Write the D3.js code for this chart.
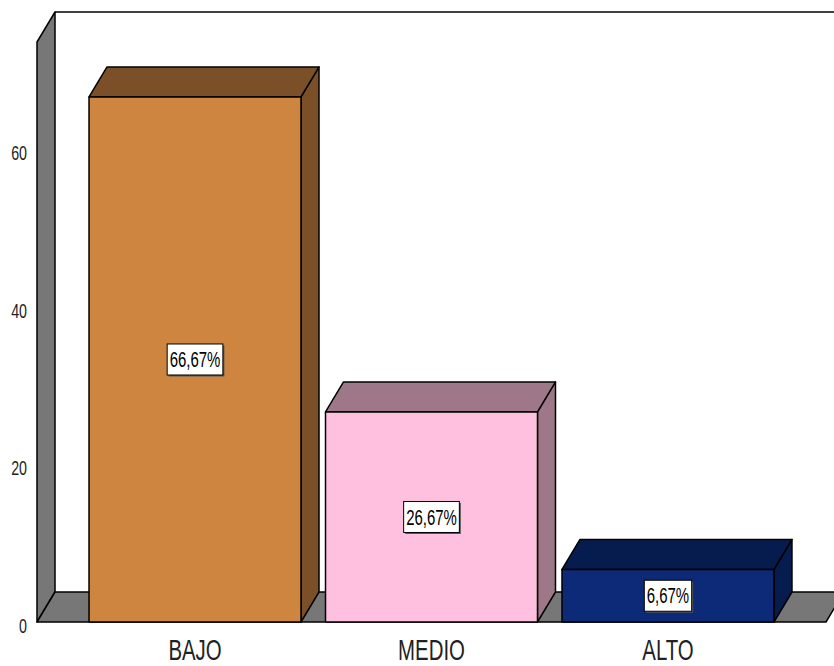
<!DOCTYPE html>
<html><head><meta charset="utf-8">
<script src="https://cdn.jsdelivr.net/npm/d3@7"></script>
<style>body{margin:0;background:#fff}svg{display:block}</style>
</head><body>
<script>
const categories = ["BAJO", "MEDIO", "ALTO"];
const values = [66.67, 26.67, 6.67];
const valueLabels = ["66,67%", "26,67%", "6,67%"];
const yTicks = [0, 20, 40, 60];
const frontColors = ["#CD853F", "#FFC0E0", "#0C2A78"];
const topColors = ["#7B5029", "#9E7888", "#061B4E"];

const W = 834, H = 666;
const dx = 18, dy = -30;
const FONT = "Liberation Sans, Arial, sans-serif";
const SX = 0.68;
const svg = d3.select("body").append("svg").attr("width", W).attr("height", H);

const x = d3.scaleBand().domain(categories).range([37, 826]).paddingInner(0.1036).paddingOuter(0.22);
const y = d3.scaleLinear().domain([0, 73.65]).range([622, 42]);
const y0 = y(0), yTop = y(73.65);
const x0 = 37, x1 = 826;
const squeeze = cx => `translate(${cx},0) scale(${SX},1) translate(${-cx},0)`;

// top border
svg.append("line").attr("x1", x0 + dx).attr("y1", yTop + dy).attr("x2", W + 5).attr("y2", yTop + dy)
  .attr("stroke", "#000").attr("stroke-width", 1.5);

// left wall
svg.append("polygon")
  .attr("points", [[x0, y0], [x0, yTop], [x0 + dx, yTop + dy], [x0 + dx, y0 + dy]].map(p => p.join(",")).join(" "))
  .attr("fill", "#777").attr("stroke", "#000").attr("stroke-width", 1.5).attr("stroke-linejoin", "round");
// floor
svg.append("polygon")
  .attr("points", [[x0, y0], [x1, y0], [x1 + dx, y0 + dy], [x0 + dx, y0 + dy]].map(p => p.join(",")).join(" "))
  .attr("fill", "#777").attr("stroke", "#000").attr("stroke-width", 1.5).attr("stroke-linejoin", "round");

// y tick labels
svg.append("g").selectAll("text").data(yTicks).join("text")
  .attr("x", 27).attr("y", d => y(d) + 3.5).attr("dy", "0.35em")
  .attr("text-anchor", "end")
  .attr("font-family", FONT).attr("font-size", 21)
  .attr("fill", "#222")
  .attr("transform", squeeze(27))
  .text(d => d);

// bars
const bars = svg.append("g").selectAll("g").data(categories).join("g");
bars.each(function (c, i) {
  const g = d3.select(this);
  const bx = x(c), bw = x.bandwidth(), by = y(values[i]);
  const poly = (pts, fill) => g.append("polygon").attr("points", pts.map(q => q.join(",")).join(" "))
    .attr("fill", fill).attr("stroke", "#000").attr("stroke-width", 1.5).attr("stroke-linejoin", "round");
  // side
  poly([[bx + bw, y0], [bx + bw, by], [bx + bw + dx, by + dy], [bx + bw + dx, y0 + dy]], topColors[i]);
  // top
  poly([[bx, by], [bx + dx, by + dy], [bx + bw + dx, by + dy], [bx + bw, by]], topColors[i]);
  // front
  poly([[bx, y0], [bx, by], [bx + bw, by], [bx + bw, y0]], frontColors[i]);

  // value label
  const cx = bx + bw / 2, cy = (by + y0) / 2;
  const t = g.append("text").attr("x", cx).attr("y", cy).attr("dy", "0.35em")
    .attr("text-anchor", "middle")
    .attr("font-family", FONT).attr("font-size", 22)
    .attr("fill", "#000")
    .attr("transform", squeeze(cx))
    .text(valueLabels[i]);
  const tw = t.node().getComputedTextLength() * SX;
  const bw2 = tw + 5, bh = 31;
  g.insert("rect", "text").attr("x", cx - bw2 / 2 + 1.5).attr("y", cy - bh / 2 + 1.5)
    .attr("width", bw2).attr("height", bh).attr("fill", "#555");
  g.insert("rect", "text").attr("x", cx - bw2 / 2).attr("y", cy - bh / 2)
    .attr("width", bw2).attr("height", bh).attr("fill", "#fff").attr("stroke", "#000").attr("stroke-width", 1);
});

// category labels
svg.append("g").selectAll("text").data(categories).join("text")
  .attr("x", d => x(d) + x.bandwidth() / 2).attr("y", 650).attr("dy", "0.35em")
  .attr("text-anchor", "middle")
  .attr("font-family", FONT).attr("font-size", 30)
  .attr("fill", "#222")
  .attr("transform", d => squeeze(x(d) + x.bandwidth() / 2))
  .text(d => d);
</script>
</body></html>
